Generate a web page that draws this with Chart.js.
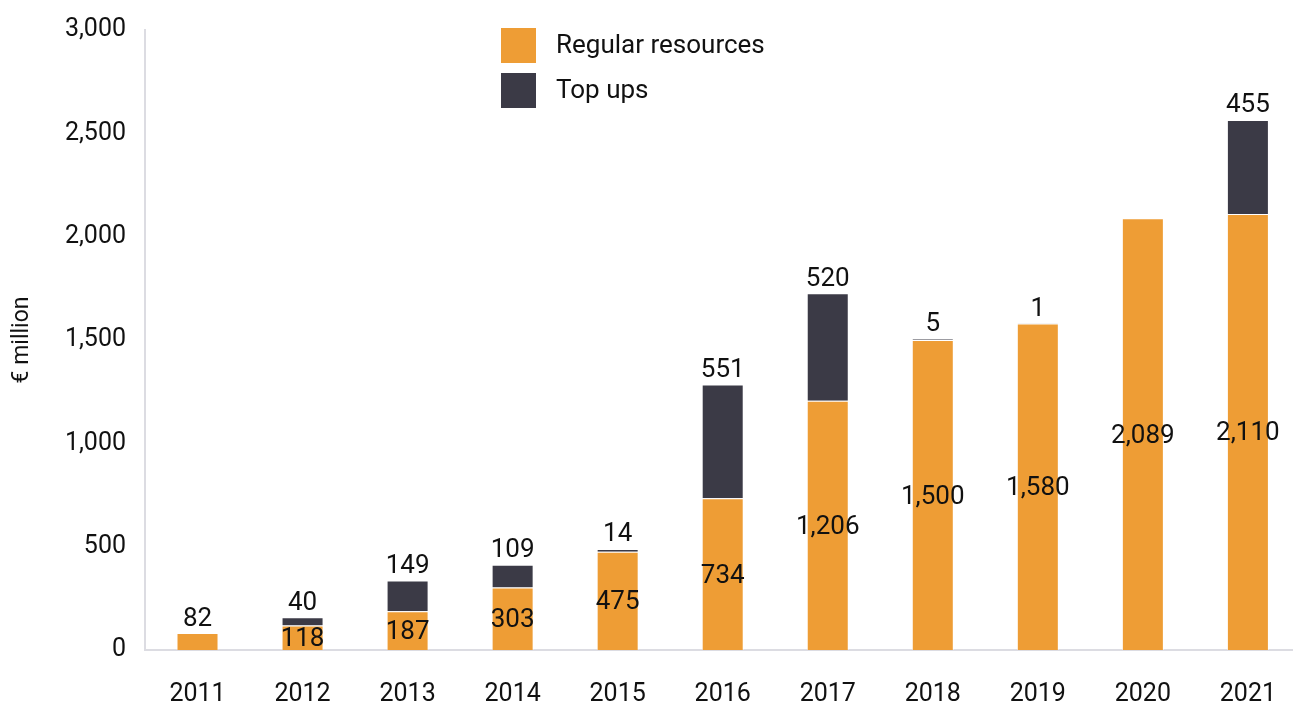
<!DOCTYPE html>
<html>
<head>
<meta charset="utf-8">
<script src="https://cdn.jsdelivr.net/npm/chart.js@4.4.1/dist/chart.umd.min.js"></script>
<style>
  html, body { margin: 0; padding: 0; background: #fff; overflow: hidden; }
  #wrap { position: relative; width: 1306px; height: 707px; }
</style>
</head>
<body>
<div id="wrap"><canvas id="chart" width="1306" height="707"></canvas></div>
<script>
// ── Data ──────────────────────────────────────────────────────────────────────
const YEARS   = ['2011','2012','2013','2014','2015','2016','2017','2018','2019','2020','2021'];
const REGULAR = [82, 118, 187, 303, 475, 734, 1206, 1500, 1580, 2089, 2110];
const TOP_UPS = [null, 40, 149, 109, 14, 551, 520, 5, 1, null, 455];
const SERIES_NAMES = ['Regular resources', 'Top ups'];
const Y_MAX  = 3000;
const Y_STEP = 500;
const Y_TITLE = '€ million';

const FONT   = "'Roboto', sans-serif";
const ORANGE = '#EE9D35';
const DARK   = '#3B3A46';
const AXIS   = '#DCDCE2';
const INK    = '#111111';

const _fmt = v => Number(v).toLocaleString('en-US');

// ── Value labels: centred in orange, above the stack for top ups ─────────────
const valueLabels = {
  id: 'valueLabels',
  afterDatasetsDraw(chart) {
    const ctx = chart.ctx;
    const reg = chart.getDatasetMeta(0).data;
    const top = chart.getDatasetMeta(1).data;
    ctx.save();
    ctx.font = `26px ${FONT}`;
    ctx.fillStyle = INK;
    ctx.textAlign = 'center';
    reg.forEach((bar, i) => {
      const h = bar.base - bar.y;
      if (TOP_UPS[i] == null && h < 30) {
        ctx.textBaseline = 'bottom';
        ctx.fillText(_fmt(REGULAR[i]), bar.x, bar.y - 1);
      } else {
        ctx.textBaseline = 'middle';
        ctx.fillText(_fmt(REGULAR[i]), bar.x, (bar.y + bar.base) / 2 + 2);
      }
    });
    top.forEach((bar, i) => {
      if (TOP_UPS[i] == null) return;
      ctx.textBaseline = 'bottom';
      ctx.fillText(_fmt(TOP_UPS[i]), bar.x, bar.y - 1);
    });
    ctx.restore();
  },
};

// ── Legend drawn inside the plot, top centre ─────────────────────────────────
const insideLegend = {
  id: 'insideLegend',
  afterDraw(chart) {
    const ctx = chart.ctx;
    const colors = [ORANGE, DARK];
    ctx.save();
    ctx.font = `26px ${FONT}`;
    ctx.textAlign = 'left';
    ctx.textBaseline = 'middle';
    SERIES_NAMES.forEach((name, i) => {
      const y = 28 + i * 45;
      ctx.fillStyle = colors[i];
      ctx.fillRect(501, y, 35, 35);
      ctx.fillStyle = INK;
      ctx.fillText(name, 556, y + 18);
    });
    ctx.restore();
  },
};

new Chart(document.getElementById('chart'), {
  type: 'bar',
  data: {
    labels: YEARS,
    datasets: [
      { label: SERIES_NAMES[0], data: REGULAR, backgroundColor: ORANGE,
        borderColor: 'rgba(255,255,255,0.6)', borderWidth: 1 },
      { label: SERIES_NAMES[1], data: TOP_UPS, backgroundColor: DARK,
        borderColor: 'rgba(255,255,255,0.6)', borderWidth: 1 },
    ],
  },
  options: {
    responsive: false,
    animation: false,
    devicePixelRatio: 1,
    layout: { padding: { top: 30, right: 0, bottom: 0, left: 0 } },
    datasets: { bar: { categoryPercentage: 1, barPercentage: 0.4 } },
    plugins: { legend: { display: false }, tooltip: { enabled: false } },
    scales: {
      x: {
        stacked: true,
        grid: { display: false, drawTicks: false },
        border: { color: AXIS, width: 2 },
        ticks: { color: INK, font: { family: FONT, size: 25 }, padding: 30, maxRotation: 0 },
        afterFit: s => { s.height = 57; },
      },
      y: {
        stacked: true,
        min: 0, max: Y_MAX,
        // tick marks are hidden; their length only spaces the labels off the axis
        grid: { display: false, drawTicks: true, tickLength: 19 },
        border: { color: AXIS, width: 2 },
        ticks: { stepSize: Y_STEP, color: INK, font: { family: FONT, size: 25 }, padding: 0,
                 callback: v => _fmt(v) },
        title: { display: true, text: Y_TITLE, color: INK, font: { family: FONT, size: 23 },
                 padding: { top: 8, bottom: 0 } },
        afterFit: s => { s.width = 145; },
      },
    },
  },
  plugins: [valueLabels, insideLegend],
});
</script>
</body>
</html>
